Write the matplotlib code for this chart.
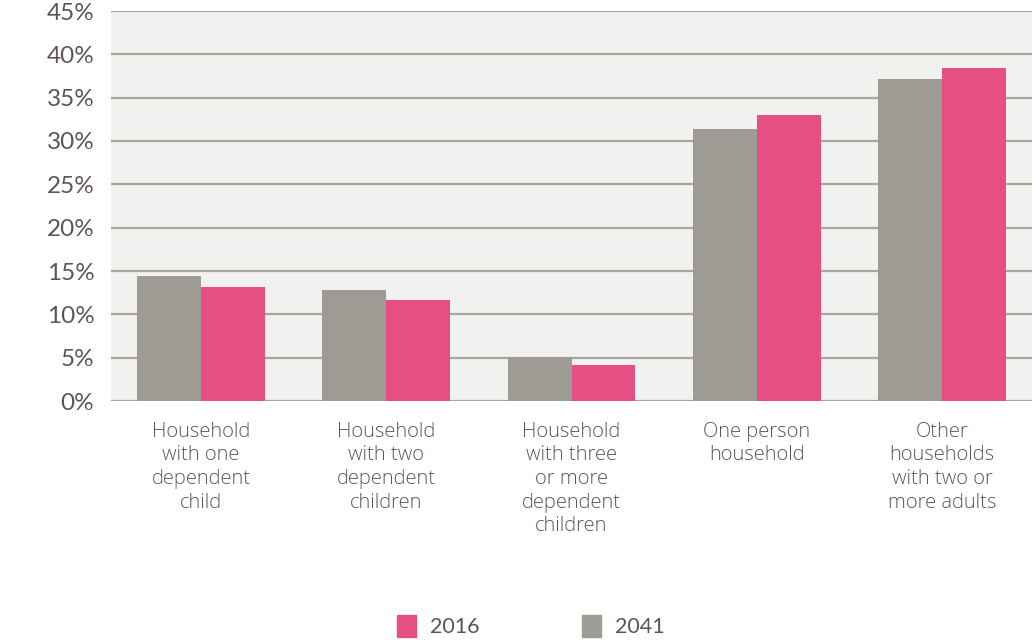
import matplotlib
matplotlib.use("Agg")
import matplotlib.pyplot as plt
import numpy as np
from matplotlib.patches import Patch

categories = [
    "Household\nwith one\ndependent\nchild",
    "Household\nwith two\ndependent\nchildren",
    "Household\nwith three\nor more\ndependent\nchildren",
    "One person\nhousehold",
    "Other\nhouseholds\nwith two or\nmore adults",
]
values_2041 = [14.4, 12.8, 5.1, 31.4, 37.2]
values_2016 = [13.15, 11.65, 4.15, 33.0, 38.4]
yticks = [0, 5, 10, 15, 20, 25, 30, 35, 40, 45]
ytick_labels = [f"{v}%" for v in yticks]

GREY = "#9e9a94"
PINK = "#e54f84"
TEXT = "#5e5553"
GRID = "#aaa69f"
BG = "#f1f1ef"

fig = plt.figure(figsize=(10.33, 6.41), dpi=100)
ax = fig.add_axes([111/1033, 1-401/641, (1032-111)/1033, (401-11)/641])
ax.set_facecolor(BG)

x = np.arange(len(categories))
w = 0.345
ax.bar(x - w/2, values_2041, width=w, color=GREY, zorder=3)
ax.bar(x + w/2, values_2016, width=w, color=PINK, zorder=3)

ax.set_xlim(-0.486, 4.486)
ax.set_ylim(0, 45)
ax.set_yticks(yticks)
ax.set_yticklabels(ytick_labels, fontsize=17.5, color=TEXT, family="Lato")
ax.set_xticks(x)
ax.set_xticklabels(categories, fontsize=14.5, color=TEXT, family="Open Sans",
                   fontweight="light", linespacing=1.24)
ax.tick_params(axis="both", length=0)
ax.tick_params(axis="y", pad=12)
ax.tick_params(axis="x", pad=15)
ax.yaxis.grid(True, color=GRID, linewidth=1.6, zorder=1)
ax.set_axisbelow(True)
for s in ax.spines.values():
    s.set_visible(False)

handles = [Patch(color=PINK, label="2016"), Patch(color=GREY, label="2041")]
leg = fig.legend(handles=handles, loc="center", bbox_to_anchor=(0.514, 0.023),
                 ncol=2, frameon=False, handlelength=0.9, handleheight=1.2,
                 handletextpad=0.65, columnspacing=4.75,
                 prop={"family": "Lato", "size": 15.5})
for t in leg.get_texts():
    t.set_color(TEXT)

fig.savefig("out.png", dpi=100)
